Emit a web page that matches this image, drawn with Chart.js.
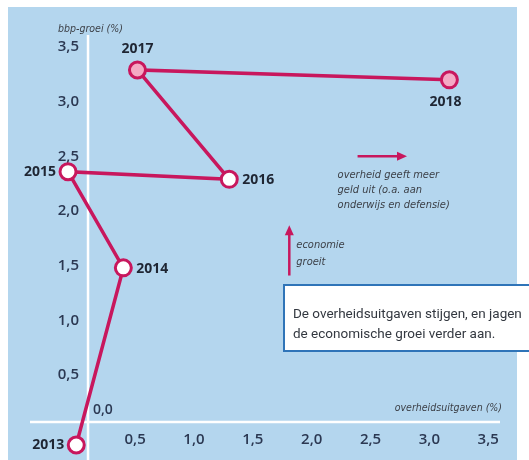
<!DOCTYPE html>
<html>
<head>
<meta charset="utf-8">
<script src="https://cdn.jsdelivr.net/npm/chart.js@4.4.0/dist/chart.umd.min.js"></script>
<style>
  html, body { margin: 0; padding: 0; background: #ffffff; }
  canvas { display: block; }
</style>
</head>
<body>
<canvas id="myChart" width="529" height="460"></canvas>
<script>
// data
const years = ['2013', '2014', '2015', '2016', '2017', '2018'];
const spending = [0.0, 0.4, -0.07, 1.3, 0.52, 3.17];   // overheidsuitgaven (%)
const growth = [-0.14, 1.48, 2.36, 2.29, 3.29, 3.2];   // bbp-groei (%)
const xTicks = [0.5, 1.0, 1.5, 2.0, 2.5, 3.0, 3.5];
const yTicks = [0.5, 1.0, 1.5, 2.0, 2.5, 3.0, 3.5];

// where the white axis lines cross (the picture draws them a bit off zero)
const xAxisAt = 0.1;
const yAxisAt = 0.07;

const lineColor = '#c8175d';
const tickColor = '#2b3852';
const noteColor = '#3b3f46';
const tickFont = "600 15px 'Open Sans', sans-serif";

const fmt = v => v.toFixed(1).replace('.', ',');

const decor = {
    id: 'decor',
    beforeDraw(chart) {
        const ctx = chart.ctx;
        ctx.save();
        ctx.fillStyle = '#b4d6ee';
        ctx.fillRect(8, 7, 509, 453);
        ctx.restore();
    },
    beforeDatasetsDraw(chart) {
        const { ctx, chartArea, scales } = chart;
        const ax = scales.x.getPixelForValue(xAxisAt);
        const ay = scales.y.getPixelForValue(yAxisAt);
        ctx.save();
        ctx.strokeStyle = '#ffffff';
        ctx.lineWidth = 2.5;
        ctx.beginPath();
        ctx.moveTo(ax, chartArea.top);
        ctx.lineTo(ax, chart.height);
        ctx.moveTo(30, ay);
        ctx.lineTo(chartArea.right, ay);
        ctx.stroke();

        // tick labels
        ctx.fillStyle = tickColor;
        ctx.font = tickFont;
        ctx.textBaseline = 'middle';
        ctx.textAlign = 'center';
        xTicks.forEach(v => ctx.fillText(fmt(v), scales.x.getPixelForValue(v), ay + 18));
        ctx.textAlign = 'right';
        yTicks.forEach(v => ctx.fillText(fmt(v), ax - 9, scales.y.getPixelForValue(v)));
        ctx.font = "600 14px 'Open Sans', sans-serif";
        ctx.textAlign = 'left';
        ctx.fillText(fmt(0), ax + 5, ay - 12);

        // axis titles
        ctx.fillStyle = noteColor;
        ctx.font = "italic 10.5px 'DejaVu Sans Condensed', 'Liberation Sans', sans-serif";
        ctx.textAlign = 'left';
        ctx.fillText('bbp-groei (%)', ax - 30, chartArea.top - 6);
        ctx.textAlign = 'right';
        ctx.fillText('overheidsuitgaven (%)', chartArea.right + 2, ay - 14);
        ctx.restore();
    },
    afterDatasetsDraw(chart) {
        const ctx = chart.ctx;
        const pts = chart.getDatasetMeta(0).data;
        const side = ['left', 'right', 'left', 'right', 'top', 'bottom'];
        ctx.save();
        ctx.fillStyle = '#1f2633';
        ctx.font = "bold 14px 'Open Sans', sans-serif";
        ctx.textBaseline = 'middle';
        pts.forEach((p, i) => {
            if (side[i] === 'left') {
                ctx.textAlign = 'right';
                ctx.fillText(years[i], p.x - 12, p.y);
            } else if (side[i] === 'right') {
                ctx.textAlign = 'left';
                ctx.fillText(years[i], p.x + 13, p.y + 1);
            } else if (side[i] === 'top') {
                ctx.textAlign = 'center';
                ctx.fillText(years[i], p.x, p.y - 21);
            } else {
                ctx.textAlign = 'center';
                ctx.fillText(years[i], p.x - 4, p.y + 22);
            }
        });
        ctx.restore();
    },
    afterDraw(chart) {
        const { ctx, scales } = chart;
        const X = v => scales.x.getPixelForValue(v);
        const Y = v => scales.y.getPixelForValue(v);
        ctx.save();

        // horizontal arrow
        const hx0 = X(2.39), hx1 = X(2.81), hy = Y(2.5);
        ctx.strokeStyle = lineColor;
        ctx.fillStyle = lineColor;
        ctx.lineWidth = 2.5;
        ctx.beginPath();
        ctx.moveTo(hx0, hy);
        ctx.lineTo(hx1 - 8, hy);
        ctx.stroke();
        ctx.beginPath();
        ctx.moveTo(hx1, hy);
        ctx.lineTo(hx1 - 10, hy - 4.5);
        ctx.lineTo(hx1 - 10, hy + 4.5);
        ctx.closePath();
        ctx.fill();

        // vertical arrow
        const vx = X(1.81), vy0 = Y(1.41), vy1 = Y(1.87);
        ctx.beginPath();
        ctx.moveTo(vx, vy0);
        ctx.lineTo(vx, vy1 + 8);
        ctx.stroke();
        ctx.beginPath();
        ctx.moveTo(vx, vy1);
        ctx.lineTo(vx - 4.5, vy1 + 10);
        ctx.lineTo(vx + 4.5, vy1 + 10);
        ctx.closePath();
        ctx.fill();

        ctx.fillStyle = noteColor;
        ctx.font = "italic 11px 'DejaVu Sans Condensed', 'Liberation Sans', sans-serif";
        ctx.textAlign = 'left';
        ctx.textBaseline = 'middle';
        ctx.fillText('overheid geeft meer', hx0 - 20, hy + 19);
        ctx.fillText('geld uit (o.a. aan', hx0 - 20, hy + 34);
        ctx.fillText('onderwijs en defensie)', hx0 - 20, hy + 49);
        ctx.fillText('economie', vx + 7, vy1 + 20);
        ctx.fillText('groeit', vx + 7, vy1 + 37);

        // note box
        ctx.fillStyle = '#ffffff';
        ctx.fillRect(283, 285, 246, 66);
        ctx.strokeStyle = '#2f74b8';
        ctx.lineWidth = 2;
        ctx.strokeRect(284, 285, 250, 66);
        ctx.fillStyle = '#333840';
        ctx.font = "13.5px 'Roboto', sans-serif";
        ctx.fillText('De overheidsuitgaven stijgen, en jagen', 293, 315);
        ctx.fillText('de economische groei verder aan.', 293, 335);
        ctx.restore();
    }
};

new Chart(document.getElementById('myChart').getContext('2d'), {
    type: 'scatter',
    data: {
        labels: years,
        datasets: [{
            label: 'bbp-groei',
            data: spending.map((x, i) => ({ x: x, y: growth[i] })),
            showLine: true,
            borderColor: lineColor,
            borderWidth: 3.5,
            tension: 0,
            pointRadius: 8,
            pointHoverRadius: 8,
            pointBorderWidth: 3,
            pointBorderColor: lineColor,
            pointBackgroundColor: years.map(y => (y === '2017' || y === '2018') ? '#f4a9c4' : '#ffffff'),
            clip: false,
        }],
    },
    options: {
        responsive: false,
        devicePixelRatio: 1,
        animation: false,
        layout: { autoPadding: false, padding: { left: 40, top: 35, right: 29, bottom: 2 } },
        plugins: {
            legend: { display: false },
            tooltip: { enabled: false },
        },
        scales: {
            x: { type: 'linear', min: -0.308, max: 3.6, display: false },
            y: { type: 'linear', min: -0.259, max: 3.61, display: false },
        },
    },
    plugins: [decor],
});
</script>
</body>
</html>
